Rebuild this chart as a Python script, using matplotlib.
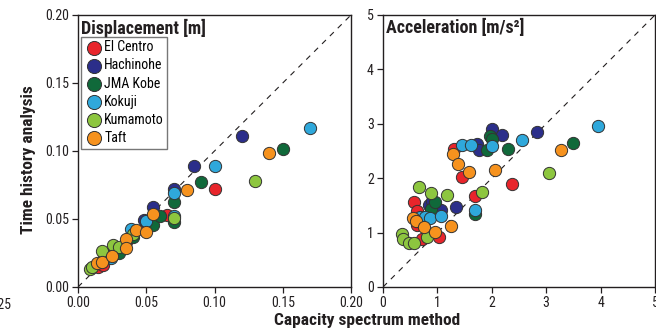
import matplotlib
matplotlib.use('Agg')
import matplotlib.pyplot as plt

plt.rcParams['font.family'] = ['Roboto Condensed', 'DejaVu Sans']

# series order / colours as in the legend
waves = ['El Centro', 'Hachinohe', 'JMA Kobe', 'Kokuji', 'Kumamoto', 'Taft']
colors = ['#e8252b', '#2b2e8a', '#10693a', '#2fa8db', '#8dc63f', '#f6921e']

# displacement [m]: capacity spectrum method (x) vs time history analysis (y)
disp_x = {
    'El Centro': [0.015, 0.049, 0.065, 0.100, 0.035, 0.018],
    'Hachinohe': [0.024, 0.048, 0.055, 0.070, 0.085, 0.120],
    'JMA Kobe':  [0.030, 0.040, 0.055, 0.060, 0.070, 0.070, 0.090, 0.150],
    'Kokuji':    [0.024, 0.039, 0.050, 0.070, 0.070, 0.100, 0.170],
    'Kumamoto':  [0.009, 0.0105, 0.018, 0.0176, 0.026, 0.030, 0.040, 0.070, 0.130],
    'Taft':      [0.0142, 0.0174, 0.0247, 0.035, 0.035, 0.0428, 0.050, 0.055, 0.080, 0.140],
}
disp_y = {
    'El Centro': [0.0145, 0.043, 0.053, 0.072, 0.033, 0.016],
    'Hachinohe': [0.025, 0.049, 0.059, 0.072, 0.089, 0.111],
    'JMA Kobe':  [0.0247, 0.0365, 0.0456, 0.0525, 0.0625, 0.048, 0.077, 0.1015],
    'Kokuji':    [0.021, 0.0427, 0.0488, 0.069, 0.052, 0.089, 0.117],
    'Kumamoto':  [0.013, 0.0145, 0.020, 0.0265, 0.031, 0.0295, 0.039, 0.0505, 0.078],
    'Taft':      [0.0177, 0.0187, 0.0225, 0.035, 0.029, 0.0418, 0.0404, 0.054, 0.071, 0.0985],
}

# acceleration [m/s2]
acc_x = {
    'El Centro': [0.57, 0.62, 0.62, 0.71, 1.03, 1.31, 1.45, 1.70, 2.38],
    'Hachinohe': [0.85, 0.90, 1.07, 1.34, 1.73, 1.76, 2.01, 2.19, 2.83],
    'JMA Kobe':  [0.89, 0.96, 1.70, 1.92, 1.97, 2.00, 2.30, 3.50],
    'Kokuji':    [0.68, 0.77, 0.87, 1.07, 1.45, 1.61, 1.70, 2.01, 2.55, 3.95],
    'Kumamoto':  [0.355, 0.36, 0.48, 0.575, 0.81, 0.665, 0.885, 1.17, 1.82, 3.05],
    'Taft':      [0.555, 0.60, 0.76, 0.96, 1.25, 1.28, 1.38, 1.58, 2.06, 3.27],
}
acc_y = {
    'El Centro': [1.56, 1.40, 1.14, 0.89, 0.925, 2.54, 2.02, 1.68, 1.90],
    'Hachinohe': [1.50, 1.58, 1.42, 1.47, 2.62, 2.51, 2.90, 2.80, 2.85],
    'JMA Kobe':  [1.43, 1.57, 1.34, 2.51, 2.78, 2.72, 2.54, 2.64],
    'Kokuji':    [1.29, 1.28, 1.27, 1.30, 2.61, 2.61, 1.42, 2.60, 2.70, 2.965],
    'Kumamoto':  [0.975, 0.877, 0.815, 0.81, 0.91, 1.84, 1.73, 1.69, 1.74, 2.10],
    'Taft':      [1.26, 1.22, 1.10, 1.02, 1.12, 2.44, 2.26, 2.11, 2.15, 2.51],
}

W, H = 656, 329
fig = plt.figure(figsize=(W / 100, H / 100), dpi=100)

def px(x0, y0, w, h):
    return [x0 / W, 1 - (y0 + h) / H, w / W, h / H]

ax1 = fig.add_axes(px(78, 15, 273, 272))
ax2 = fig.add_axes(px(383, 15, 272, 272))

edge = '#231f20'
for ax, xs, ys, lim, ticks, fmt in [
        (ax1, disp_x, disp_y, 0.2, [0, 0.05, 0.10, 0.15, 0.20], '{:.2f}'),
        (ax2, acc_x, acc_y, 5, [0, 1, 2, 3, 4, 5], '{:g}')]:
    ax.plot([0, lim], [0, lim], ls=(0, (5, 5)), color=edge, lw=0.8, zorder=1)
    for name, c in zip(waves, colors):
        ax.scatter(xs[name], ys[name], s=78, color=c, edgecolor='#333333',
                   linewidth=0.7, zorder=3, label=name)
    ax.set_xlim(0, lim)
    ax.set_ylim(0, lim)
    ax.set_xticks(ticks)
    ax.set_yticks(ticks)
    ax.set_xticklabels([fmt.format(t) for t in ticks])
    ax.set_yticklabels([fmt.format(t) for t in ticks])
    ax.tick_params(direction='out', length=4.5, width=0.9, color=edge,
                   labelsize=10, labelcolor='#231f20', pad=2)
    for sp in ax.spines.values():
        sp.set_color(edge)
        sp.set_linewidth(1.0)

ax1.text(0.012, 0.985, 'Displacement [m]', transform=ax1.transAxes,
         ha='left', va='top', fontsize=13, fontweight='bold', color='#231f20')
ax2.text(0.012, 0.985, 'Acceleration [m/s²]', transform=ax2.transAxes,
         ha='left', va='top', fontsize=13, fontweight='bold', color='#231f20')

leg = ax1.legend(loc='upper left', bbox_to_anchor=(0.012, 0.92), borderaxespad=0,
                 fontsize=10, frameon=True, fancybox=False, handletextpad=0.1,
                 labelspacing=0.3, borderpad=0.25, handlelength=1.3,
                 markerscale=1.15)
leg.get_frame().set_edgecolor('#555555')
leg.get_frame().set_linewidth(1.0)

fig.text(367 / W, 1 - 320 / H, 'Capacity spectrum method', ha='center', va='center',
         fontsize=12.5, fontweight='bold', color='#231f20')
fig.text(28 / W, 1 - 160 / H, 'Time history analysis', ha='center', va='center',
         rotation=90, fontsize=12.5, fontweight='bold', color='#231f20')
# cut-off tick label of the neighbouring panel
fig.text(11 / W, 1 - 305 / H, '0.25', ha='right', va='center', fontsize=10,
         color='#231f20')

fig.savefig('out.png', dpi=100)
